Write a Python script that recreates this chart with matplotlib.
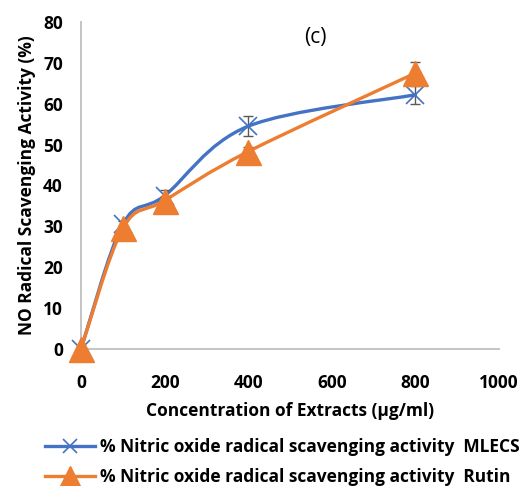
import numpy as np
import matplotlib
matplotlib.use("Agg")
import matplotlib.pyplot as plt
from matplotlib.path import Path
from matplotlib.patches import PathPatch
from matplotlib.lines import Line2D

conc = [0, 100, 200, 400, 800]
mlecs = [0, 30.5, 37.5, 54.5, 62.2]
mlecs_err = [0, 0.8, 1.5, 2.5, 2.2]
rutin = [0, 29.5, 36.3, 48.3, 67.5]
rutin_err = [0, 0.5, 1.0, 1.2, 2.8]
xticks = [0, 200, 400, 600, 800, 1000]
yticks = [0, 10, 20, 30, 40, 50, 60, 70, 80]

BLUE = "#4472C4"
ORANGE = "#ED7D31"
FONT = ["Open Sans", "DejaVu Sans"]
plt.rcParams["font.family"] = FONT

fig = plt.figure(figsize=(5.31, 4.86), dpi=100)
ax = fig.add_axes([81/531, 1-349/486, 418/531, 327/486])


def smooth_path(xs, ys, t=1/6):
    xs = np.asarray(xs, float); ys = np.asarray(ys, float)
    n = len(xs)
    verts = [(xs[0], ys[0])]
    codes = [Path.MOVETO]
    for i in range(n - 1):
        p0 = np.array([xs[max(i-1, 0)], ys[max(i-1, 0)]])
        p1 = np.array([xs[i], ys[i]])
        p2 = np.array([xs[i+1], ys[i+1]])
        p3 = np.array([xs[min(i+2, n-1)], ys[min(i+2, n-1)]])
        c1 = p1 + (p2 - p0) * t
        c2 = p2 - (p3 - p1) * t
        verts += [tuple(c1), tuple(c2), tuple(p2)]
        codes += [Path.CURVE4] * 3
    return Path(verts, codes)


def draw_series(xs, ys, err, color, marker, ms, mew, z):
    path = smooth_path(xs, ys)
    ax.add_patch(PathPatch(path, facecolor="none", edgecolor=color, lw=2.4,
                           zorder=z, capstyle="round", joinstyle="round"))
    ax.errorbar(xs, ys, yerr=err, fmt="none", ecolor="#595959", elinewidth=1.0,
                capsize=3.5, capthick=1.0, zorder=z+1)
    if marker == "^":
        ax.plot(xs, ys, ls="none", marker="^", ms=ms, color=color,
                markeredgecolor=color, zorder=z+2, clip_on=False)
    else:
        ax.plot(xs, ys, ls="none", marker="x", ms=ms, mew=mew, color=color,
                zorder=z+2, clip_on=False)


ax.set_xlim(0, 1000)
ax.set_ylim(0, 80)
draw_series(conc, mlecs, mlecs_err, BLUE, "x", 13, 1.2, 2)
draw_series(conc, rutin, rutin_err, ORANGE, "^", 18, 1, 5)

for s in ["top", "right"]:
    ax.spines[s].set_visible(False)
for s in ["left", "bottom"]:
    ax.spines[s].set_color("#BFBFBF")
    ax.spines[s].set_linewidth(1.3)
ax.set_xticks(xticks)
ax.set_yticks(yticks)
ax.tick_params(length=0, labelsize=12.5)
ax.tick_params(axis="x", pad=18)
ax.tick_params(axis="y", pad=13)
for lab in ax.get_xticklabels() + ax.get_yticklabels():
    lab.set_fontweight("bold")

ax.set_xlabel("Concentration of Extracts (µg/ml)", fontsize=12.5, fontweight="bold", labelpad=7)
ax.set_ylabel("NO Radical Scavenging Activity (%)", fontsize=12.5, fontweight="bold", labelpad=5)
ax.text(0.56, 0.985, "(c)", transform=ax.transAxes, ha="center", va="top", fontsize=15)

h1 = Line2D([], [], color=BLUE, lw=2.4, marker="x", ms=10, mew=1.2)
h2 = Line2D([], [], color=ORANGE, lw=2.4, marker="^", ms=14)
fig.legend([h1, h2],
           ["% Nitric oxide radical scavenging activity  MLECS",
            "% Nitric oxide radical scavenging activity  Rutin"],
           loc="upper left", bbox_to_anchor=(38/531, 1-431/486), frameon=False,
           prop={"weight": "bold", "size": 12.5, "family": FONT},
           handlelength=2.9, handletextpad=0.25, labelspacing=0.68, borderaxespad=0)

fig.savefig("out.png", dpi=100)
